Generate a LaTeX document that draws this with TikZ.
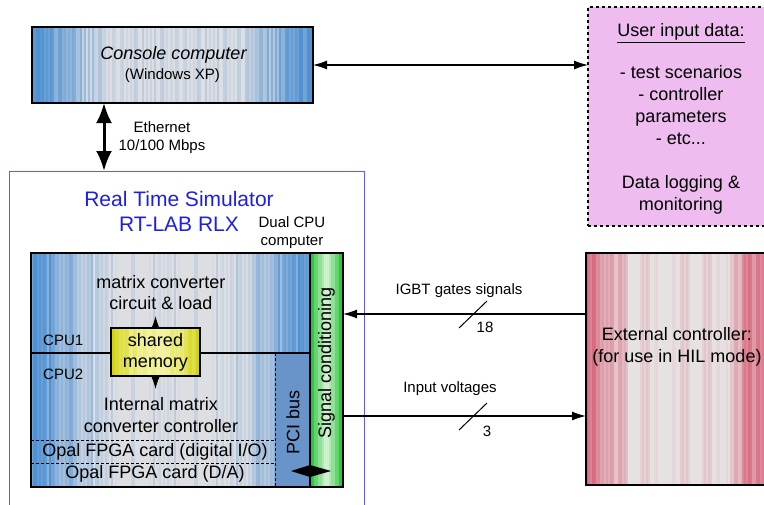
\documentclass[tikz,border=0pt]{standalone}
\usepackage{fontspec}
\setmainfont{Liberation Sans}
\usetikzlibrary{arrows.meta,backgrounds}
\definecolor{blueedge}{RGB}{80,145,210}
\definecolor{bluemid}{RGB}{220,222,226}
\definecolor{rededge}{RGB}{215,95,118}
\definecolor{redmid}{RGB}{230,226,226}
\definecolor{greenedge}{RGB}{30,195,50}
\definecolor{greenmid}{RGB}{205,240,205}
\definecolor{yellowedge}{RGB}{210,210,20}
\definecolor{yellowmid}{RGB}{242,242,160}
\definecolor{userfill}{RGB}{238,188,238}
\definecolor{pcifill}{RGB}{104,148,202}
\definecolor{rtblue}{RGB}{90,90,255}
\definecolor{rttext}{RGB}{30,30,235}
\newcommand\stripebox[8]{%
  \pgfmathtruncatemacro\sbn{(#3-#1)/2}%
  \pgfmathsetmacro\sbw{(#3-#1)/\sbn}%
  \foreach \sbi in {1,...,\sbn}{%
    \pgfmathsetmacro\sbt{(\sbi-0.5)/\sbn}%
    \pgfmathtruncatemacro\sbm{mod(\sbi,31)}%
    \pgfmathtruncatemacro\sbh{mod(\sbm*\sbm*7+\sbm*#7,31)}%
    \pgfmathtruncatemacro\sbp{max(0,min(100,100*min(1,#8*(1-abs(2*\sbt-1))) + 45*(\sbh/30-0.5)))}%
    \fill[#6!\sbp!#5] ({#1+(\sbi-1)*\sbw},#2) rectangle ({#1+\sbi*\sbw+0.3},#4);
  }%
}
\begin{document}
\begin{tikzpicture}[x=1pt,y=-1pt,
  box/.style={draw, line width=1.2pt, inner sep=0pt, outer sep=0pt},
  lbl/.style={inner sep=0pt, align=center},
  f15/.style={font=\fontsize{15}{18}\selectfont},
  f18/.style={font=\fontsize{18}{22}\selectfont},
  f21/.style={font=\fontsize{21}{25}\selectfont},
  tip/.style={-{Latex[length=14pt,width=9pt]}, line width=1.2pt},
  dtip/.style={{Latex[length=14pt,width=9pt]}-{Latex[length=14pt,width=9pt]}, line width=1.2pt},
  smalltip/.style={-{Latex[length=12pt,width=8pt]}, line width=1pt},
  cardline/.style={dash pattern=on 3pt off 2pt, line width=0.8pt}]
\useasboundingbox (0,0) rectangle (764,504);
\clip (0,0) rectangle (764,504);

% boxes
\node[box, minimum width=281pt, minimum height=76pt] (console) at (172.5,65) {};
\node[box, fill=userfill, line width=1.5pt, dash pattern=on 3pt off 3pt,
      minimum width=178pt, minimum height=219pt] (user) at (677,116.5) {};
\node[box, draw=rtblue, line width=1pt, minimum width=355pt, minimum height=339pt] (rt) at (186.5,340.5) {};
\node[box, minimum width=279pt, minimum height=234pt] (main) at (170.5,370) {};
\node[box, minimum width=33pt, minimum height=234pt] (sig) at (326.5,370) {};
\node[box, minimum width=180pt, minimum height=232pt] (ext) at (676,369) {};

% background textures
\begin{scope}[on background layer]
  \stripebox{32}{27}{313}{103}{blueedge}{bluemid}{11}{1.8}
  \stripebox{31}{253}{310}{487}{blueedge}{bluemid}{23}{1.7}
  \fill[pcifill] (275,353) rectangle (310,487);
  \stripebox{310}{253}{343}{487}{greenedge}{greenmid}{5}{1.2}
  \stripebox{586}{253}{766}{485}{rededge}{redmid}{29}{1.9}
\end{scope}

% CPU divider and cards
\draw[line width=1.2pt] (main.west |- 0,353) -- (111,353);
\draw[line width=1.2pt] (200,353) -- (main.east |- 0,353);
\node[box, minimum width=89pt, minimum height=48pt, lbl, font=\fontsize{18}{21}\selectfont] (shared) at (155.5,352) {shared\\memory};
\begin{scope}[on background layer]
  \stripebox{111}{328}{200}{376}{yellowedge}{yellowmid}{7}{1.5}
\end{scope}
\draw[cardline] (main.west |- 0,440) -- (275,440);
\draw[cardline] (main.west |- 0,463) -- (275,463);
\draw[cardline] (275,353) -- (275,487);

% texts
\node[lbl, font=\fontsize{18}{22}\selectfont\itshape] (ctitle) at (173.5,55) {Console computer};
\node[lbl, f15] (csub) at (172.5,76) {(Windows XP)};
\node[lbl, font=\fontsize{18}{22}\selectfont] (usertxt) at (681,119)
  {\underline{User input data:}\\[20pt]- test scenarios\\- controller\\parameters\\- etc...\\[22pt]Data logging \&\\monitoring};
\node[lbl, font=\fontsize{15}{18}\selectfont] (eth) at (162,138) {Ethernet\\10/100 Mbps};
\node[lbl, f21, text=rttext] (rt1) at (179,199) {Real Time Simulator};
\node[lbl, f21, text=rttext] (rt2) at (179,224) {RT-LAB RLX};
\node[lbl, f15] (dual) at (292,233) {Dual CPU\\computer};
\node[lbl, font=\fontsize{18}{21}\selectfont] (mcc) at (161,292.5) {matrix converter\\circuit \& load};
\node[lbl, f15, anchor=west] (cpu1) at (43,340) {CPU1};
\node[lbl, f15, anchor=west] (cpu2) at (43,374) {CPU2};
\node[lbl, f18] (imc) at (161,415) {Internal matrix\\converter controller};
\node[lbl, f18] (opal1) at (155,452) {Opal FPGA card (digital I/O)};
\node[lbl, f18] (opal2) at (155,474) {Opal FPGA card (D/A)};
\node[lbl, f18, rotate=90] (pci) at (293,422) {PCI bus};
\node[lbl, f18, rotate=90] (sigtxt) at (sig.center |- 0,363) {Signal conditioning};
\node[lbl, f18] (exttxt) at (677,346.5) {External controller:\\(for use in HIL mode)};
\node[lbl, f15] (igbt) at (459,291) {IGBT gates signals};
\node[lbl, f15] (n18) at (485,327) {18};
\node[lbl, f15] (vin) at (450,389) {Input voltages};
\node[lbl, f15] (n3) at (487,431) {3};

% connectors
\draw[dtip] (console.east) -- (console.east -| user.west);
\coordinate (ethx) at (104,0);
\draw[line width=3pt, {Latex[length=20pt,width=16pt]}-{Latex[length=20pt,width=16pt]}]
  (console.south -| ethx) -- (rt.north -| ethx);
\draw[smalltip] (shared.north) -- ++(0,-12);
\draw[smalltip] (shared.south) -- ++(0,13);
\coordinate (yig) at (0,314);
\coordinate (yin) at (0,416);
\draw[tip] (ext.west |- yig) -- (sig.east |- yig);
\draw[tip] (sig.east |- yin) -- (ext.west |- yin);
\draw[line width=1pt] (459,328) -- (487,301);
\draw[line width=1pt] (459,430) -- (487,403);
\coordinate (pcil) at (291,471);
\coordinate (pcir) at (331,471);
\fill (pcil) -- (310,465) -- (pcir) -- (310,477) -- cycle;
\end{tikzpicture}
\end{document}
